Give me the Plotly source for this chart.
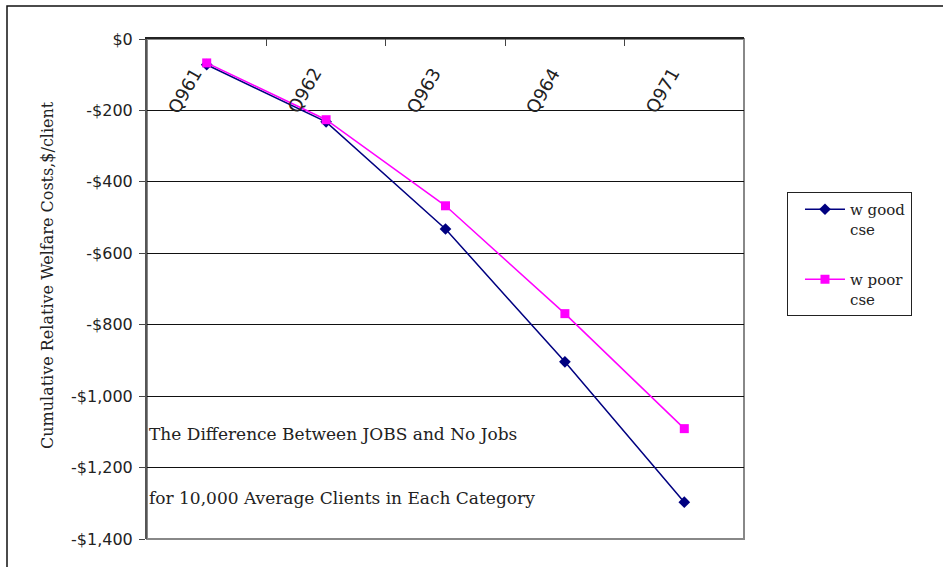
import plotly.graph_objects as go

categories = ["Q961", "Q962", "Q963", "Q964", "Q971"]
good_cse = [-72, -232, -532, -904, -1297]
poor_cse = [-67, -226, -467, -769, -1091]
series_names = ["w good<br>cse", "w poor<br>cse"]
y_ticks = [0, -200, -400, -600, -800, -1000, -1200, -1400]
y_tick_labels = ["$0", "-$200", "-$400", "-$600", "-$800", "-$1,000", "-$1,200", "-$1,400"]
y_title = "Cumulative Relative Welfare Costs,$/client"
notes = ["The Difference Between JOBS and No Jobs",
         "for 10,000 Average Clients in Each Category"]

SERIF = "DejaVu Serif"
SANS = "DejaVu Sans"

fig = go.Figure()
fig.add_trace(go.Scatter(
    x=categories, y=good_cse, name=series_names[0], mode="lines+markers",
    legendgroup="good",
    line=dict(color="#000080", width=1.5),
    marker=dict(symbol="diamond", size=9, color="#000080"),
))
fig.add_trace(go.Scatter(
    x=categories, y=poor_cse, name=series_names[1], mode="lines+markers",
    legendgroup="poor",
    line=dict(color="#FF00FF", width=1.5),
    marker=dict(symbol="square", size=9, color="#FF00FF"),
))

fig.update_layout(
    width=943, height=567,
    margin=dict(l=147, r=199, t=39, b=28),
    paper_bgcolor="white", plot_bgcolor="white",
    showlegend=True,
    legend=dict(
        x=1.072, y=0.694, xanchor="left", yanchor="top",
        bordercolor="#222222", borderwidth=1,
        font=dict(family=SERIF, size=15, color="#222222"),
        traceorder="grouped", tracegroupgap=28,
        itemwidth=40, valign="top", indentation=12,
    ),
    xaxis=dict(
        type="category", side="top", range=[-0.5, 4.5],
        showticklabels=False, ticks="inside", ticklen=7, tickcolor="#444444",
        tickson="boundaries", showgrid=False,
        showline=True, linecolor="#222222", linewidth=2, zeroline=False,
    ),
    yaxis=dict(
        range=[-1400, 0], tickvals=y_ticks, ticktext=y_tick_labels,
        ticks="outside", ticklen=6, tickcolor="#444444",
        tickfont=dict(family=SANS, size=16, color="#222222"),
        ticklabelstandoff=3,
        showgrid=True, gridcolor="#111111", gridwidth=1,
        showline=True, linecolor="#555555", linewidth=2, zeroline=False,
    ),
)

# y-axis title
fig.add_annotation(
    x=(47 - 147) / 597, y=(539 - 275) / 500, xref="paper", yref="paper",
    text=y_title, showarrow=False, textangle=-90,
    xanchor="center", yanchor="middle",
    font=dict(family=SERIF, size=16, color="#222222"),
)

# category labels, rotated, below the top axis line
for c in categories:
    fig.add_annotation(
        x=c, y=0, xref="x", yref="y", text=c, showarrow=False,
        textangle=-60, xanchor="right", yanchor="top", yshift=-22, xshift=2,
        font=dict(family=SANS, size=18, color="#222222"),
    )

# notes inside plot
for note, yv in zip(notes, [-1105, -1285]):
    fig.add_annotation(
        x=0, y=yv, xref="paper", yref="y", text=note, showarrow=False,
        xanchor="left", yanchor="middle", xshift=0,
        font=dict(family=SERIF, size=17, color="#222222"),
    )

# plot area border (right and bottom grey)
fig.add_shape(type="rect", xref="paper", yref="paper", x0=0, x1=1, y0=0, y1=1,
              line=dict(color="#888888", width=2), layer="below")
# outer chart border
fig.add_shape(type="rect", xref="paper", yref="paper",
              x0=(7 - 147) / 597, x1=(946 - 147) / 597,
              y0=(539 - 570) / 500, y1=(539 - 6) / 500,
              line=dict(color="#111111", width=1.5))

fig.write_html("out.html")
